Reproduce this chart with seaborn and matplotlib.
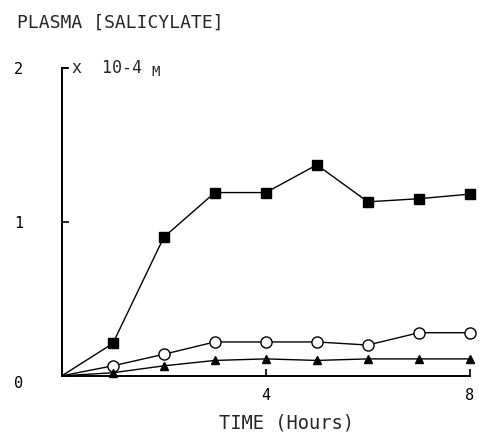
import pandas as pd
import matplotlib
matplotlib.use("Agg")
import matplotlib.pyplot as plt
import seaborn as sns

# === data (plasma salicylate, x 10^-4 M) ===
hours = [0, 1, 2, 3, 4, 5, 6, 7, 8]
squares = [0, 0.21, 0.90, 1.19, 1.19, 1.37, 1.13, 1.15, 1.18]
circles = [0, 0.065, 0.14, 0.22, 0.22, 0.22, 0.20, 0.28, 0.28]
triangles = [0, 0.02, 0.065, 0.10, 0.11, 0.10, 0.11, 0.11, 0.11]

x_ticks = [4, 8]
x_tick_labels = ["4", "8"]
y_ticks = [0, 1, 2]
y_tick_labels = ["0", "1", "2"]

FONT = ["DejaVu Sans Mono"]


def main():
    sns.set_style("white")
    plt.rcParams["font.family"] = FONT

    fig = plt.figure(figsize=(4.79, 4.32), dpi=100)
    ax = fig.add_axes([0.129, 0.13, 0.852, 0.713])

    # 三条曲线分别画，原点不画 marker
    series = [
        (squares, "s", "black", 6.5),
        (circles, "o", "white", 8),
        (triangles, "^", "black", 6),
    ]
    for vals, mk, fc, ms in series:
        df = pd.DataFrame({"hours": hours, "conc": vals})
        sns.lineplot(
            data=df, x="hours", y="conc", ax=ax,
            color="black", linewidth=1.0,
            marker=mk, markersize=ms, markevery=slice(1, None),
            markerfacecolor=fc, markeredgecolor="black", markeredgewidth=1.0,
            clip_on=False,
        )

    ax.set_xlim(0, 8)
    ax.set_ylim(0, 2)
    ax.set_xticks(x_ticks)
    ax.set_xticklabels(x_tick_labels)
    ax.set_yticks(y_ticks)
    ax.set_yticklabels(y_tick_labels)
    ax.tick_params(axis="both", direction="in", length=5, width=1.2,
                   labelsize=11, colors="black")
    ax.tick_params(axis="y", pad=28, left=True)
    ax.tick_params(axis="x", pad=9, bottom=True)
    # "0" 在图里略低于横轴
    ax.get_yticklabels()[0].set_verticalalignment("top")

    for side in ["top", "right"]:
        ax.spines[side].set_visible(False)
    for side in ["left", "bottom"]:
        ax.spines[side].set_linewidth(1.4)
        ax.spines[side].set_color("black")

    # 顶部小钩
    ax.plot([0, 0.1], [2, 2], color="black", linewidth=1.4, clip_on=False)

    ax.set_xlabel("TIME (Hours)", fontsize=13.5, va="top")
    ax.xaxis.set_label_coords(0.55, -0.122)
    ax.set_ylabel("")

    fig.text(0.036, 0.948, "PLASMA [SALICYLATE]", fontsize=13, va="center")
    ax.text(0.2, 2.0, "x  10-4", fontsize=12, va="center", ha="left")
    ax.text(1.76, 1.97, "M", fontsize=10, va="center", ha="left")

    fig.savefig("out.png", dpi=100)
    plt.close(fig)


if __name__ == "__main__":
    main()
